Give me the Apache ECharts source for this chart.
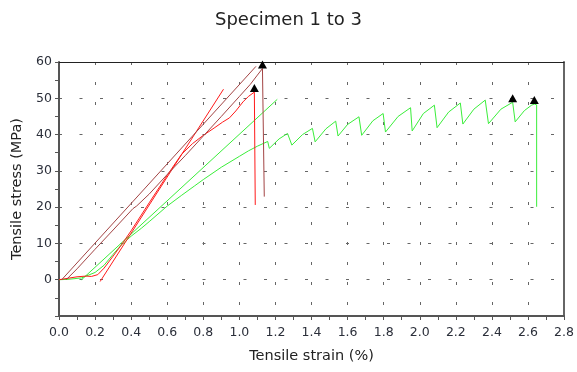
<!DOCTYPE html>
<html>
<head>
<meta charset="utf-8">
<script src="https://cdn.jsdelivr.net/npm/echarts@6/dist/echarts.min.js"></script>
<style>html,body{margin:0;padding:0;background:#fff;}#c{width:577px;height:372px;}</style>
</head>
<body>
<div id="c"></div>
<script>
// ---- data (strain %, stress MPa) ----
const xTicks = [0.0,0.2,0.4,0.6,0.8,1.0,1.2,1.4,1.6,1.8,2.0,2.2,2.4,2.6,2.8];
const yTicks = [0,10,20,30,40,50,60];

// Specimen 1 (dark red) curve and modulus line
const s1Strain = [0.04,0.1,0.2,0.3,0.41,0.43,0.5,0.6,0.7,0.8,0.9,1.0,1.06,1.1,1.128,1.138,1.138];
const s1Stress = [0,3,8.4,13.7,19.6,20.3,23.6,29,34.2,39.6,45,50.5,53.8,56.4,58.2,58,22.9];
const s1LineStrain = [0.015,1.092];
const s1LineStress = [0,58.8];

// Specimen 2 (red) curve and modulus line
const s2Strain = [0,0.05,0.1,0.15,0.18,0.215,0.25,0.3,0.346,0.4,0.5,0.6,0.68,0.74,0.8,0.86,0.906,0.945,0.98,1.02,1.05,1.083,1.088,1.088];
const s2Stress = [0,0.4,0.8,1.0,0.9,1.4,3.2,6.5,9.6,13.5,21.2,28.8,34.6,37.5,39.8,41.8,43.4,44.6,46.5,49,50.5,51.7,51.5,20.6];
const s2LineStrain = [0.228,0.912];
const s2LineStress = [-0.5,52.5];

// Specimen 3 (green) curve and modulus line
const s3Strain = [0,0.05,0.125,0.2,0.25,0.3,0.346,0.4,0.457,0.5,0.6,0.678,0.75,0.8,0.9,1.0,1.05,1.1,1.157,1.166,
  1.22,1.267,1.291,1.35,1.405,1.42,1.48,1.534,1.547,1.6,1.663,1.678,1.74,1.797,1.81,1.88,1.949,1.958,2.02,2.081,2.096,
  2.16,2.225,2.239,2.3,2.363,2.381,2.45,2.515,2.529,2.58,2.62,2.635,2.648,2.648];
const s3Stress = [0,0.1,0.5,2,4,7,9.6,12,14.2,16,20.3,23.2,25.8,27.6,31,34,35.5,36.8,38.1,36.2,
  38.8,40.3,37.1,40.0,41.7,38.0,41.6,43.7,39.6,42.8,44.9,39.8,43.8,45.8,40.7,45.0,47.4,41.0,45.8,48.1,41.9,
  46.2,48.7,42.9,47.0,49.5,43.0,47.0,48.9,43.5,46.6,48.1,48.4,48.2,20.1];
const s3LineStrain = [0.125,1.21];
const s3LineStress = [0,49.7];

// Break markers
const breakStrain = [1.083,1.128,2.515,2.635];
const breakStress = [51.7,58.2,48.9,48.4];

const zip = (a,b) => a.map((v,i)=>[v,b[i]]);
const FONT = 'DejaVu Sans';
const cBrown = '#a34444', cRed = '#ff1a1a', cGreen = '#3aee3a';

const chart = echarts.init(document.getElementById('c'), null, {renderer:'canvas'});
const lineSeries = (data,color) => ({type:'line', data, showSymbol:false, symbol:'none', lineStyle:{color, width:1}, itemStyle:{color}, animation:false, z:3});

chart.setOption({
  animation:false,
  backgroundColor:'#fff',
  title:{text:'Specimen 1 to 3', left:'center', top:6, textStyle:{fontFamily:FONT, fontSize:18, fontWeight:'normal', color:'#222'}},
  grid:{left:59, right:12, top:62, bottom:56},
  xAxis:[{
    type:'value', min:0, max:2.8, interval:0.2,
    name:'Tensile strain (%)', nameLocation:'middle', nameGap:33,
    nameTextStyle:{fontFamily:FONT, fontSize:14.5, color:'#222'},
    axisLine:{onZero:false, lineStyle:{color:'#555', width:2}},
    axisTick:{length:4, lineStyle:{color:'#555'}},
    minorTick:{show:true, splitNumber:2, length:4, lineStyle:{color:'#555'}},
    axisLabel:{fontFamily:FONT, fontSize:12.5, color:'#2b2f3a', margin:10, formatter:v=>v.toFixed(1)},
    splitLine:{show:true, lineStyle:{color:'#666', width:1, type:[3,17]}}
  },{
    type:'value', position:'top', min:0, max:2.8,
    axisLine:{show:true, onZero:false, lineStyle:{color:'#222', width:1}}, axisTick:{show:false}, axisLabel:{show:false}, splitLine:{show:false}
  }],
  yAxis:[{
    type:'value', min:-10, max:60, interval:10,
    name:'Tensile stress (MPa)', nameLocation:'middle', nameGap:28,
    nameTextStyle:{fontFamily:FONT, fontSize:14.5, color:'#222'},
    axisLine:{show:true, onZero:false, lineStyle:{color:'#555', width:2}},
    axisTick:{show:true, length:4, lineStyle:{color:'#555'}},
    minorTick:{show:true, splitNumber:2, length:4, lineStyle:{color:'#555'}},
    axisLabel:{fontFamily:FONT, fontSize:12.5, color:'#2b2f3a', margin:7, formatter:v=> v < 0 ? '' : String(v)},
    splitLine:{show:true, lineStyle:{color:'#666', width:1, type:[3,17.5]}}
  },{
    type:'value', position:'right', min:-10, max:60,
    axisLine:{show:true, onZero:false, lineStyle:{color:'#666', width:2}}, axisTick:{show:false}, axisLabel:{show:false}, splitLine:{show:false}
  }],
  series:[
    lineSeries(zip(s3LineStrain,s3LineStress), cGreen),
    lineSeries(zip(s3Strain,s3Stress), cGreen),
    lineSeries(zip(s2LineStrain,s2LineStress), cRed),
    lineSeries(zip(s2Strain,s2Stress), cRed),
    lineSeries(zip(s1LineStrain,s1LineStress), cBrown),
    lineSeries(zip(s1Strain,s1Stress), cBrown),
    {type:'scatter', data:zip(breakStrain,breakStress), symbol:'triangle', symbolSize:[9,8], symbolOffset:[0,-4],
     itemStyle:{color:'#000', opacity:1}, z:5, animation:false}
  ]
});
</script>
</body>
</html>
